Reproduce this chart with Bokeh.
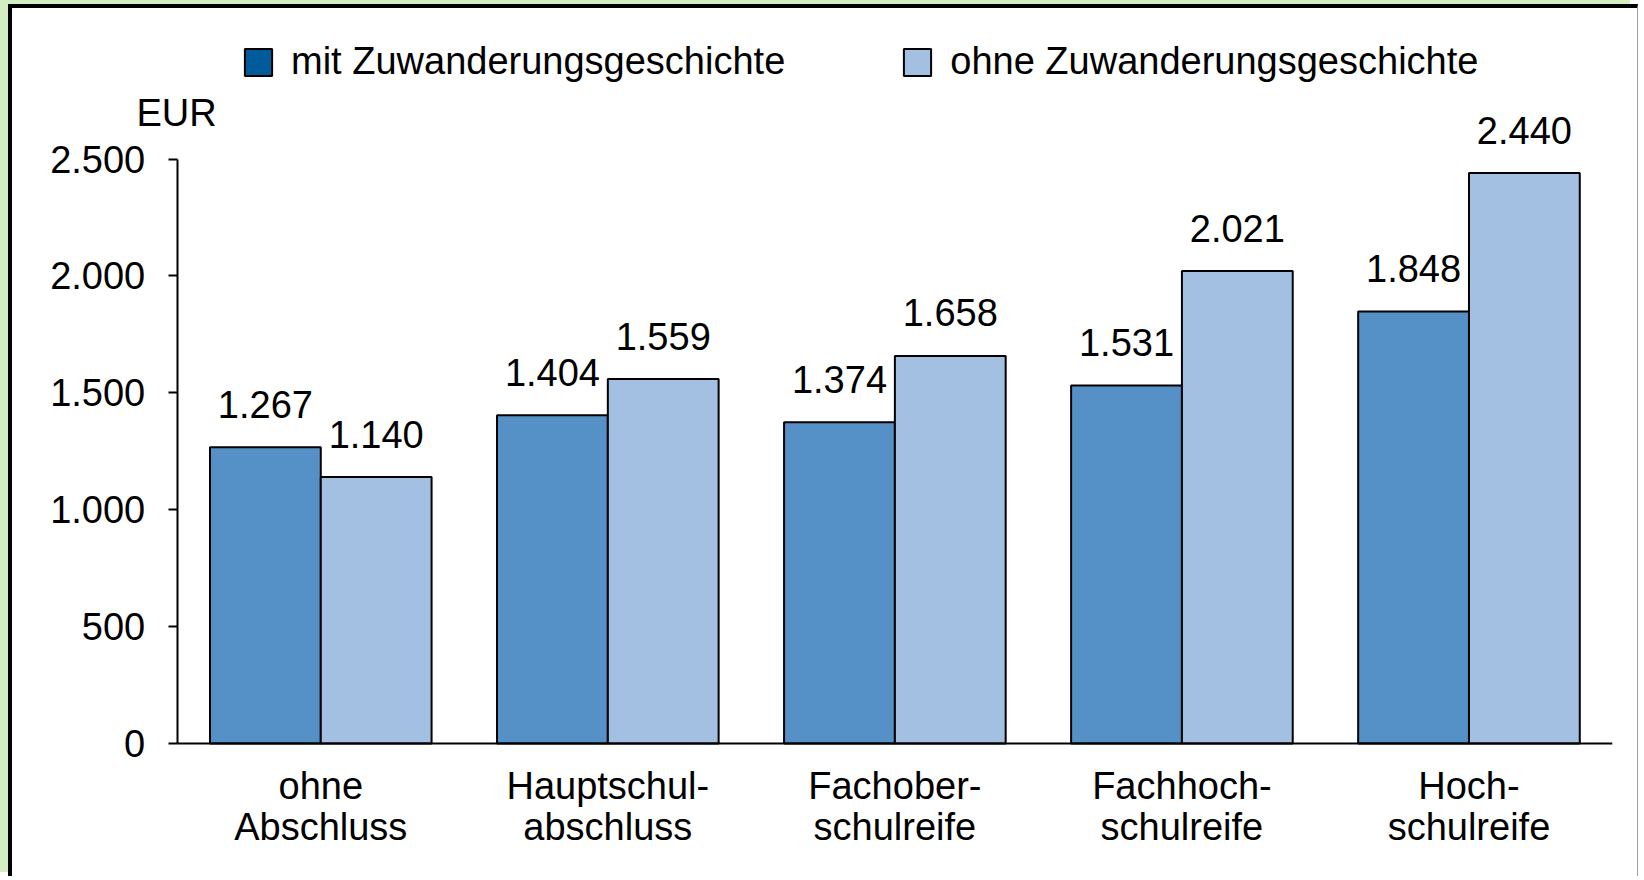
from bokeh.plotting import figure
from bokeh.models import (Range1d, FixedTicker, Legend, LegendItem, Label,
                          ColumnDataSource)
from bokeh.core.properties import value
from bokeh.embed import file_html
from bokeh.resources import INLINE

# ---- data ----
categories = ["ohne\nAbschluss", "Hauptschul-\nabschluss", "Fachober-\nschulreife",
              "Fachhoch-\nschulreife", "Hoch-\nschulreife"]
mit_values = [1267, 1404, 1374, 1531, 1848]
ohne_values = [1140, 1559, 1658, 2021, 2440]
series_names = ["mit Zuwanderungsgeschichte", "ohne Zuwanderungsgeschichte"]
y_ticks = [0, 500, 1000, 1500, 2000, 2500]
y_tick_labels = ["0", "500", "1.000", "1.500", "2.000", "2.500"]
unit_label = "EUR"


def de(v):
    return f"{v:,}".replace(",", ".")


FONT = "Liberation Sans"
FS = "38px"
DARK = "#5591c6"
LIGHT = "#a3c0e3"
DARK_LEG = "#005b9b"

BW = 0.386   # bar width (category units)
OFF = 0.193  # dodge offset

centers = [i + 0.5 for i in range(len(categories))]
src = ColumnDataSource(dict(
    xm=[c - OFF for c in centers],
    xo=[c + OFF for c in centers],
    mit=mit_values,
    ohne=ohne_values,
    mit_lbl=[de(v) for v in mit_values],
    ohne_lbl=[de(v) for v in ohne_values],
))

W, H = 1630, 872
MBL, MBR, MBT, MBB = 28, 30, 22, 0
frame_w = W - MBL - MBR
px_per_cat = 287.05
x_end = float(len(categories))
x_start = x_end - frame_w / px_per_cat

p = figure(
    x_range=Range1d(x_start, x_end), y_range=Range1d(-586, 3050),
    width=W, height=H, output_backend="svg", toolbar_location=None,
    min_border_left=MBL, min_border_right=MBR, min_border_top=MBT, min_border_bottom=MBB,
    background_fill_color="white", border_fill_color="white", outline_line_color=None,
    styles={"border-left": "4px solid black", "border-top": "4px solid black",
            "border-right": "1px solid #a0a0a0", "margin-left": "8px",
            "margin-top": "4px", "box-shadow": "-8px -4px 0 0 #d4eec4"},
)
p.xgrid.grid_line_color = None
p.ygrid.grid_line_color = None

p.vbar(x="xm", top="mit", width=BW, source=src,
       fill_color=DARK, line_color="black", line_width=2)
p.vbar(x="xo", top="ohne", width=BW, source=src,
       fill_color=LIGHT, line_color="black", line_width=2)

p.text(x="xm", y="mit", text="mit_lbl", source=src,
       y_offset=-43, text_align="center", text_baseline="alphabetic",
       text_font=value(FONT), text_font_size=FS, text_color="black")
p.text(x="xo", y="ohne", text="ohne_lbl", source=src,
       y_offset=-43, text_align="center", text_baseline="alphabetic",
       text_font=value(FONT), text_font_size=FS, text_color="black")

# legend swatches (legend colours differ from bars); the swatch renderers hold no drawable bar
nan = float("nan")
r_leg1 = p.vbar(x=[nan], top=[nan], width=BW, fill_color=DARK_LEG, line_color="black", line_width=2)
r_leg2 = p.vbar(x=[nan], top=[nan], width=BW, fill_color=LIGHT, line_color="black", line_width=2)
legend = Legend(items=[LegendItem(label=series_names[0], renderers=[r_leg1]),
                       LegendItem(label=series_names[1], renderers=[r_leg2])],
                orientation="horizontal", location=(201, 660),
                glyph_width=34, glyph_height=34, label_standoff=16, spacing=115,
                padding=0, margin=0, background_fill_alpha=0, border_line_color=None,
                label_text_font=FONT, label_text_font_size=FS, label_text_color="black")
p.add_layout(legend, "center")

# axes
xa = p.xaxis[0]
xa.fixed_location = 0
xa.ticker = FixedTicker(ticks=centers)
xa.major_label_overrides = {c: lbl for c, lbl in zip(centers, categories)}
xa.bounds = (0, x_end)
xa.axis_line_color = "black"
xa.axis_line_width = 2
xa.major_tick_line_color = None
xa.minor_tick_line_color = None
xa.major_label_text_font = FONT
xa.major_label_text_font_size = FS
xa.major_label_text_color = "black"
xa.major_label_text_line_height = 0.98
xa.major_label_standoff = 15

ya = p.yaxis[0]
ya.fixed_location = 0
ya.bounds = (0, 2500)
ya.ticker = FixedTicker(ticks=y_ticks)
ya.major_label_overrides = {t: l for t, l in zip(y_ticks, y_tick_labels)}
ya.axis_line_color = "black"
ya.axis_line_width = 2
ya.major_tick_line_color = "black"
ya.major_tick_line_width = 2
ya.major_tick_in = 0
ya.major_tick_out = 9
ya.minor_tick_line_color = None
ya.major_label_text_font = FONT
ya.major_label_text_font_size = FS
ya.major_label_text_color = "black"
ya.major_label_standoff = 23

# frame bottom now at canvas bottom; EUR label in screen units from frame bottom-left
p.add_layout(Label(x=96, y=631 + 137, x_units="screen", y_units="screen", text=unit_label,
                   text_font=FONT, text_font_size=FS, text_color="black",
                   text_baseline="alphabetic"))
legend.location = (201, 660 + 137)

html = file_html(p, INLINE, title="chart")
html = html.replace("<body>", '<body style="background:#d4eec4">', 1)
open("out.html", "w").write(html)
